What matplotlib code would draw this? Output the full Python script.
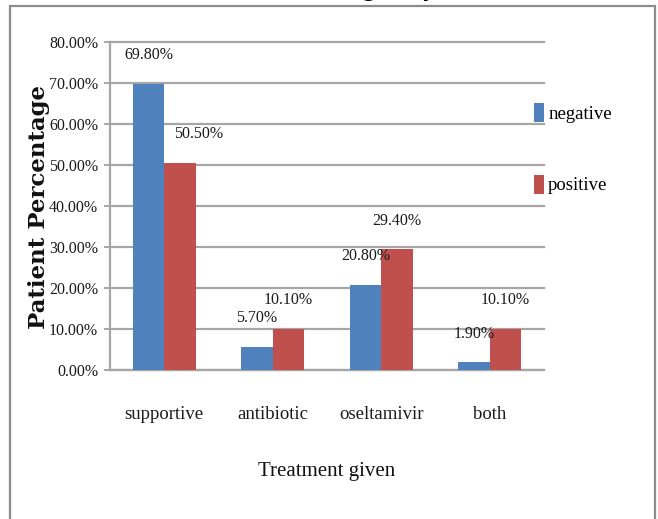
import matplotlib
matplotlib.use("Agg")
import matplotlib.pyplot as plt
from matplotlib.ticker import FuncFormatter
from matplotlib.patches import Rectangle
import numpy as np

# Data
treatments = ["supportive", "antibiotic", "oseltamivir", "both"]
series_names = ["negative", "positive"]
negative = [69.8, 5.7, 20.8, 1.9]
positive = [50.5, 10.1, 29.4, 10.1]
y_ticks = [0, 10, 20, 30, 40, 50, 60, 70, 80]

title_text = "Treatment group"
x_label = "Treatment given"
y_label = "Patient Percentage"

# Style
BLUE = "#4F81BD"
RED = "#C0504D"
GRID = "#A6A6A6"
FRAME = "#8C8C8C"
SERIF = ["Liberation Serif", "DejaVu Serif"]

W, H = 658, 519
fig = plt.figure(figsize=(W / 100, H / 100), dpi=100)

# outer chart frame
fig.patches.append(Rectangle((10 / W, -0.05), (655 - 10) / W, 1.05 - 6 / H,
                             transform=fig.transFigure, fill=False,
                             edgecolor=FRAME, linewidth=1.6))

# title sitting above the top edge of the figure
fig.text(0.5, 1 + 5 / H, title_text, ha="center", va="baseline",
         fontsize=20, fontweight="bold", family="Liberation Sans", color="black")

ax = fig.add_axes([110 / W, 1 - 370 / H, (544 - 110) / W, (370 - 42) / H])

x = np.arange(len(treatments))
bw = 0.29
bars_neg = ax.bar(x - bw / 2, negative, bw, color=BLUE, label=series_names[0], zorder=3)
bars_pos = ax.bar(x + bw / 2, positive, bw, color=RED, label=series_names[1], zorder=3)

ax.set_xlim(-0.5, len(treatments) - 0.5)
ax.set_ylim(y_ticks[0], y_ticks[-1])
ax.set_yticks(y_ticks)
ax.yaxis.set_major_formatter(FuncFormatter(lambda v, p: f"{v:.2f}%"))
ax.set_xticks(x)
ax.set_xticklabels(treatments)

ax.yaxis.grid(True, color=GRID, linewidth=1.6, zorder=0)
for gl in ax.get_ygridlines():
    gl.set_clip_on(False)
ax.set_axisbelow(True)

for s in ["top", "right"]:
    ax.spines[s].set_visible(False)
for s in ["left", "bottom"]:
    ax.spines[s].set_color(GRID)
    ax.spines[s].set_linewidth(1.6)

ax.tick_params(axis="y", length=4, width=1.4, color=GRID, pad=4.5,
               labelsize=11.5, labelcolor="#1a1a1a")
ax.tick_params(axis="x", length=0, pad=26, labelsize=13.5, labelcolor="#1a1a1a")
for lab in ax.get_yticklabels() + ax.get_xticklabels():
    lab.set_family(SERIF)

ax.set_xlabel(x_label, family=SERIF, fontsize=15, labelpad=28, color="#111111")
fig.text(39 / W, 1 - 207 / H, y_label, rotation=90, ha="center", va="center",
         family="DejaVu Serif", fontsize=16.5, fontweight="bold", color="#111111")

# value labels above the bars
label_nudge_x = {(1, 0): 13.5}  # shift one label sideways (points)
for si, bars in enumerate([bars_neg, bars_pos]):
    vals = negative if si == 0 else positive
    for ci, (b, v) in enumerate(zip(bars, vals)):
        dx = label_nudge_x.get((si, ci), 0)
        ax.annotate(f"{v:.2f}%", (b.get_x() + b.get_width() / 2, v),
                    xytext=(dx, 20.5), textcoords="offset points",
                    ha="center", va="center", family=SERIF, fontsize=11.5,
                    color="#1a1a1a", annotation_clip=False)

handles = [bars_neg, bars_pos]
leg = fig.legend(handles, series_names, loc="upper left",
                 bbox_to_anchor=(534 / W, 1 - 103 / H), frameon=False,
                 handlelength=0.55, handleheight=1.2, handletextpad=0.2,
                 labelspacing=2.75, borderpad=0, borderaxespad=0,
                 prop={"family": SERIF, "size": 13.5})

fig.savefig("out.png", dpi=100)
